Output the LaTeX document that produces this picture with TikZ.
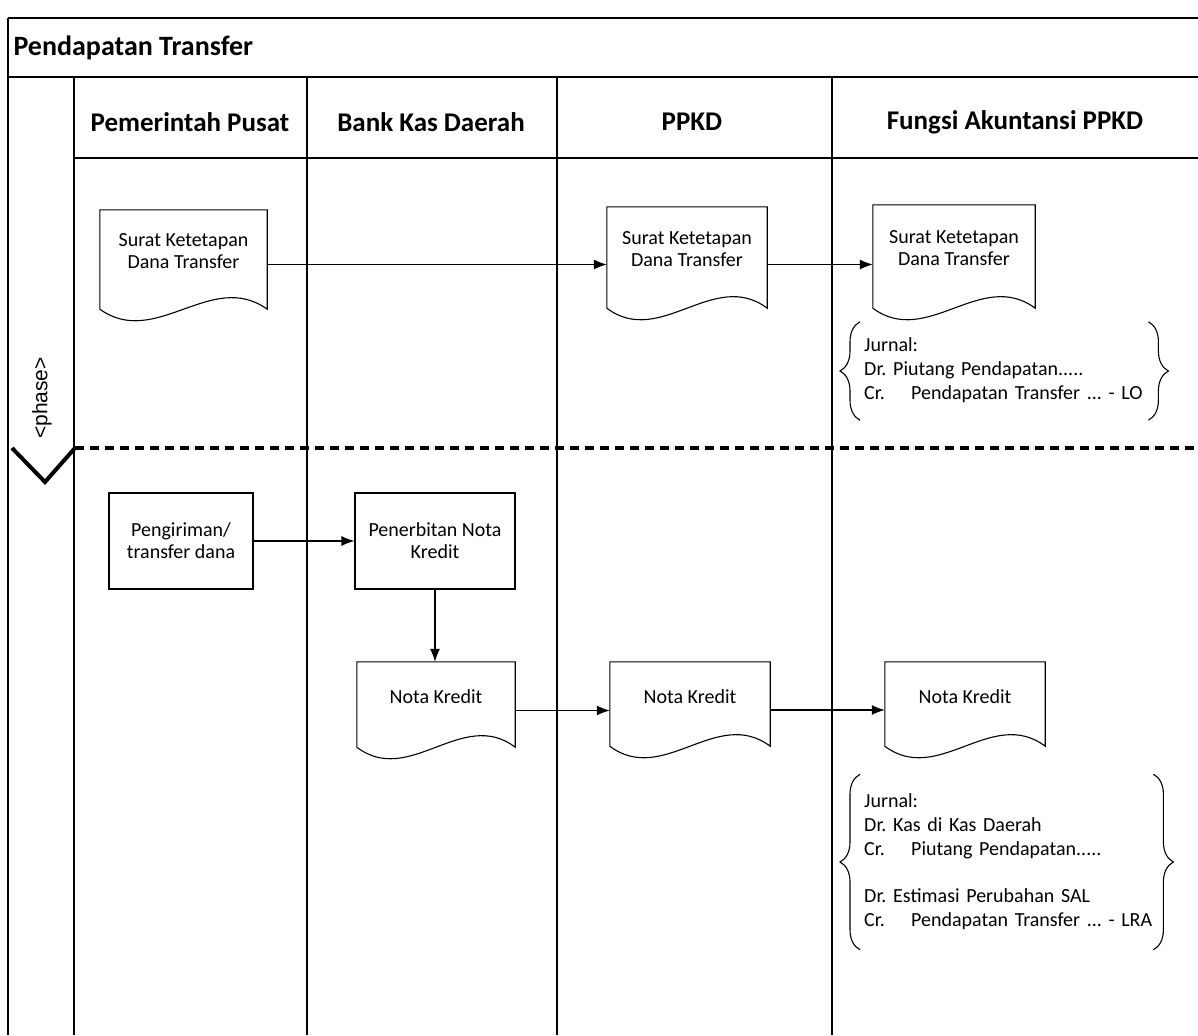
\documentclass[tikz,border=0pt]{standalone}
\usepackage{fontspec}
\setmainfont{Carlito}
\newfontfamily\phasefont{Liberation Sans}
\usetikzlibrary{arrows.meta,decorations.pathreplacing,calc}
\newcommand\docoutline[1]{%
  \draw[shapeline] (#1.south west) -- (#1.north west) -- (#1.north east) -- (#1.south east)
   .. controls ($(#1.south east)!0.333!(#1.south west)+(0,-40)$) and ($(#1.south east)!0.667!(#1.south west)+(0,40)$) .. (#1.south west) -- cycle;}
\newcommand\crtab[1]{\makebox[47pt][l]{#1}}
\newcommand\doctext[2][5pt]{\raisebox{#1}[\height][\depth]{\begin{tabular}{@{}c@{}}#2\end{tabular}}}
\newcommand\jtext[1]{\begin{tabular}{@{}l@{}}#1\end{tabular}}
\begin{document}
\begin{tikzpicture}[x=1pt,y=-1pt,
  lane/.style={line width=1.1pt},
  shapeline/.style={line width=1.1pt},
  docnode/.style={draw=none, inner sep=0pt, align=center, font=\bodyfont},
  procnode/.style={draw, line width=1.1pt, inner sep=0pt, align=center, font=\bodyfont},
  headnode/.style={font=\fontsize{27}{30}\selectfont\bfseries},
  jurnal/.style={inner xsep=4pt, inner ysep=0pt, align=left, anchor=west, font=\jurnalfont},
  jbrace/.style={decorate, decoration={brace, amplitude=20pt}, line width=1.1pt},
  arr/.style={-{Latex[length=13pt,width=10pt]}, line width=1.1pt},
  phaseline/.style={line width=4pt},
  dashline/.style={line width=4pt, dash pattern=on 9pt off 6pt},
]
\def\bodyfont{\fontsize{20}{22}\selectfont\frenchspacing}
\def\jurnalfont{\fontsize{20}{24}\selectfont\frenchspacing}
\useasboundingbox (0,0) rectangle (1198,1035);
\fill[white] (0,0) rectangle (1198,1035);

% pool frame and lanes
\draw[lane] (8,18) -- (1198,18);
\draw[lane] (8,77) -- (1198,77);
\draw[lane] (74,158) -- (1198,158);
\draw[lane] (8,18) -- (8,1035);
\draw[lane] (74,77) -- (74,1035);
\draw[lane] (307,77) -- (307,1035);
\draw[lane] (557,77) -- (557,1035);
\draw[lane] (832,77) -- (832,1035);

\node[anchor=west, font=\fontsize{28}{32}\selectfont\bfseries] (title) at (10,48) {Pendapatan Transfer};
\node[headnode] (h1) at (190,122) {Pemerintah Pusat};
\node[headnode] (h2) at (431,122) {Bank Kas Daerah};
\node[headnode] (h3) at (692,122) {PPKD};
\node[headnode] (h4) at (1015,122) {Fungsi Akuntansi PPKD};

% phase marker
\node[rotate=90, font=\phasefont\fontsize{21}{24}\selectfont] (phase) at (42,398) {<phase>};
\draw[phaseline] (12,448) -- (45,482) -- (75,448);
\draw[dashline] (75,448) -- (1198,448);

% phase 1
\node[docnode, minimum width=167, minimum height=99] (d1) at (183.5,259.5) {\doctext[6pt]{Surat Ketetapan\\Dana Transfer}};
\node[docnode, minimum width=160, minimum height=101] (d2) at (687,257.5) {\doctext[6pt]{Surat Ketetapan\\Dana Transfer}};
\node[docnode, minimum width=162, minimum height=103] (d3) at (954,256.5) {\doctext[6pt]{Surat Ketetapan\\Dana Transfer}};
\docoutline{d1}
\docoutline{d2}
\docoutline{d3}
\draw[arr] ($(d1.east)+(0,5)$) -- ($(d1.east -| d2.west)+(0,5)$);
\draw[arr] ($(d2.east)+(0,7)$) -- ($(d2.east -| d3.west)+(0,7)$);

\node[jurnal, text width=280pt, minimum height=98] (j1) at (860,371)
  {\jtext{Jurnal:\\Dr. Piutang Pendapatan.....\\\crtab{Cr.}Pendapatan Transfer ... - LO}};
\draw[jbrace] (j1.south west) -- (j1.north west);
\draw[jbrace] (j1.north east) -- (j1.south east);

% phase 2
\node[procnode, minimum width=144, minimum height=96] (p1) at (181,541) {Pengiriman/\\transfer dana};
\node[procnode, minimum width=160, minimum height=96] (p2) at (435,541) {Penerbitan Nota\\Kredit};
\node[docnode, minimum width=158, minimum height=85] (n1) at (436,704.5) {\doctext{Nota Kredit}};
\node[docnode, minimum width=160, minimum height=84] (n2) at (690,704) {\doctext{Nota Kredit}};
\node[docnode, minimum width=160, minimum height=84] (n3) at (965,704) {\doctext{Nota Kredit}};
\docoutline{n1}
\docoutline{n2}
\docoutline{n3}
\draw[arr] (p1.east) -- (p1.east -| p2.west);
\draw[arr] (p2.south) -- (p2.south |- n1.north);
\draw[arr] ($(n1.east)+(0,6)$) -- ($(n1.east -| n2.west)+(0,6)$);
\draw[arr] ($(n2.east)+(0,6)$) -- ($(n2.east -| n3.west)+(0,6)$);

\node[jurnal, text width=285pt, minimum height=175] (j2) at (860,862)
  {\jtext{Jurnal:\\Dr. Kas di Kas Daerah\\\crtab{Cr.}Piutang Pendapatan.....\\[23pt]Dr. Estimasi Perubahan SAL\\\crtab{Cr.}Pendapatan Transfer ... - LRA}};
\draw[jbrace] (j2.south west) -- (j2.north west);
\draw[jbrace] (j2.north east) -- (j2.south east);
\end{tikzpicture}
\end{document}
